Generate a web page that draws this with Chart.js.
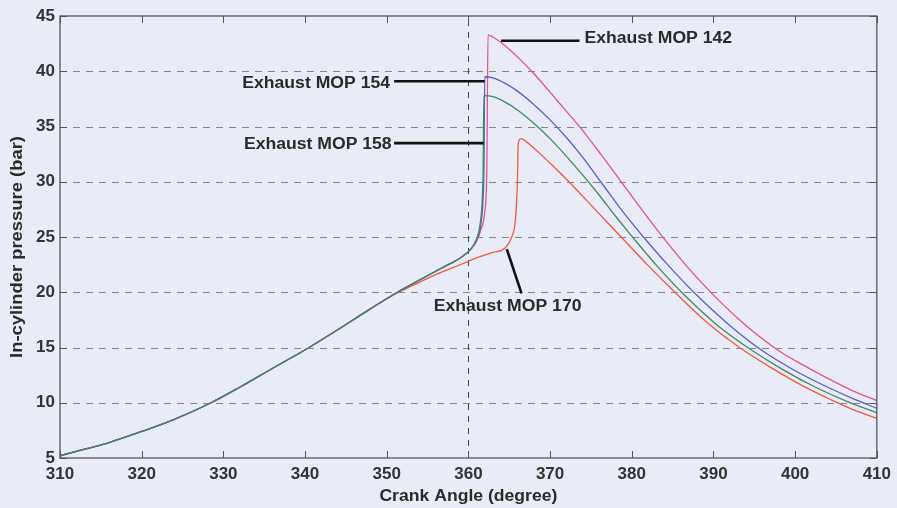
<!DOCTYPE html>
<html><head><meta charset="utf-8">
<script src="https://cdn.jsdelivr.net/npm/chart.js@4.4.1/dist/chart.umd.min.js"></script>
<style>html,body{margin:0;padding:0;background:#e9ebf6;}#wrap{width:897px;height:508px;position:relative;}</style>
</head><body><div id="wrap"><canvas id="c" width="897" height="508"></canvas></div>
<script>
// ---- data (crank angle in degrees, pressure in bar) ----
const xTicks = [310, 320, 330, 340, 350, 360, 370, 380, 390, 400, 410];
const yTicks = [5, 10, 15, 20, 25, 30, 35, 40, 45];
const gridY = [10, 15, 20, 25, 30, 35, 40];

const mop142Angle = [310, 313, 316, 320, 324, 328.5, 332, 336, 340.5, 344, 348, 351.3, 354, 357, 359, 360.3, 361, 361.5, 362, 362.25, 362.4, 363, 364, 366, 368, 370.8, 373.7, 376.3, 378.8, 381.4, 383.9, 386.8, 389.8, 393.8, 398, 401, 404, 407, 410];
const mop142P     = [5.2, 5.8, 6.4, 7.4, 8.5, 10.0, 11.4, 13.1, 15.0, 16.6, 18.5, 20.0, 21.1, 22.3, 23.1, 23.9, 24.6, 25.6, 27.3, 31.0, 43.3, 43.1, 42.6, 41.3, 39.8, 37.4, 34.9, 32.4, 29.9, 27.3, 24.9, 22.3, 19.9, 17.1, 14.7, 13.4, 12.2, 11.1, 10.2];

const mop154Angle = [310, 313, 316, 320, 324, 328.5, 332, 336, 340.5, 344, 348, 351.3, 354, 357, 359, 360.3, 361, 361.5, 361.8, 361.9, 362, 363, 364.5, 366, 368, 370, 372, 374, 376.2, 379, 382, 385, 388, 392, 396, 400, 404, 407, 410];
const mop154P     = [5.2, 5.8, 6.4, 7.4, 8.5, 10.0, 11.4, 13.1, 15.0, 16.6, 18.5, 20.0, 21.1, 22.3, 23.1, 23.9, 24.8, 26.0, 28.5, 31.0, 39.5, 39.4, 38.9, 38.2, 37.0, 35.6, 34.0, 32.2, 30.0, 27.2, 24.5, 22.0, 19.7, 17.0, 14.7, 12.9, 11.4, 10.4, 9.5];

const mop158Angle = [310, 313, 316, 320, 324, 328.5, 332, 336, 340.5, 344, 348, 351.3, 354, 357, 359, 360.3, 361, 361.4, 361.7, 361.8, 361.9, 363, 364.5, 366, 368, 370, 372, 374, 376, 378, 380.2, 383.3, 386.5, 390.5, 394.6, 398.5, 402.5, 406.4, 410];
const mop158P     = [5.2, 5.8, 6.4, 7.4, 8.5, 10.0, 11.4, 13.1, 15.0, 16.6, 18.5, 20.0, 21.1, 22.3, 23.1, 23.9, 24.8, 26.0, 28.5, 31.0, 37.8, 37.7, 37.2, 36.5, 35.3, 33.9, 32.3, 30.6, 28.8, 26.9, 24.9, 22.2, 19.7, 17.0, 14.8, 13.0, 11.4, 10.1, 9.1];

const mop170Angle = [310, 313, 316, 320, 324, 328.5, 332, 336, 340.5, 344, 348, 350, 352, 354, 356, 358, 360, 361.3, 363, 364.5, 365.3, 365.7, 365.9, 366, 366.1, 366.4, 367.6, 370.1, 372.3, 375.5, 378.7, 381.9, 385, 389, 393.2, 397, 401, 404.6, 407, 410];
const mop170P     = [5.2, 5.8, 6.4, 7.4, 8.5, 10.0, 11.4, 13.1, 15.0, 16.6, 18.5, 19.4, 20.2, 20.9, 21.6, 22.2, 22.8, 23.2, 23.6, 24.0, 25.0, 26.2, 28.2, 30.0, 33.4, 33.9, 33.3, 31.6, 30.0, 27.5, 25.0, 22.5, 20.2, 17.4, 15.0, 13.2, 11.5, 10.2, 9.4, 8.6];

// ---- annotations (labels with leader lines) ----
const noteText = ['Exhaust MOP 142', 'Exhaust MOP 154', 'Exhaust MOP 158', 'Exhaust MOP 170'];
const noteAt   = [[374.2, 43.0], [350.4, 38.9], [350.6, 33.4], [364.8, 18.7]];
const noteAlign = ['left', 'right', 'right', 'center'];
const leaderFrom = [[364.0, 42.76], [350.9, 39.1], [350.9, 33.5], [364.7, 23.9]];
const leaderTo   = [[373.6, 42.76], [362.0, 39.1], [361.9, 33.5], [366.5, 19.9]];

const FONT = '"Liberation Sans", Arial, Helvetica, sans-serif';
const pts = (xs, ys) => xs.map((x, i) => ({x: x, y: ys[i]}));

function stretchText(ctx, text, x, y, sx, align, rot) {
  ctx.save();
  ctx.translate(x, y);
  if (rot) ctx.rotate(rot);
  ctx.scale(sx, 1);
  ctx.textAlign = align;
  ctx.textBaseline = 'middle';
  ctx.fillText(text, 0, 0);
  ctx.restore();
}

const framePlugin = {
  id: 'frame',
  beforeDatasetsDraw(chart) {
    const {ctx, chartArea: a, scales: {x, y}} = chart;
    ctx.save();
    ctx.strokeStyle = '#858790';
    ctx.lineWidth = 1;
    ctx.setLineDash([7, 6]);
    gridY.forEach(v => {
      const py = Math.round(y.getPixelForValue(v)) + 0.5;
      ctx.beginPath(); ctx.moveTo(a.left, py); ctx.lineTo(a.right, py); ctx.stroke();
    });
    ctx.strokeStyle = '#444';
    ctx.setLineDash([6, 6]);
    const px = Math.round(x.getPixelForValue(360)) + 0.5;
    ctx.beginPath(); ctx.moveTo(px, a.bottom); ctx.lineTo(px, a.top); ctx.stroke();
    ctx.restore();
  },
  afterDatasetsDraw(chart) {
    const {ctx, chartArea: a, scales: {x, y}} = chart;
    ctx.save();
    ctx.strokeStyle = '#555';
    ctx.lineWidth = 1.3;
    ctx.strokeRect(a.left, a.top, a.right - a.left, a.bottom - a.top);
    ctx.lineWidth = 1;
    const tl = 7;
    xTicks.forEach(v => {
      const px = Math.round(x.getPixelForValue(v)) + 0.5;
      ctx.beginPath();
      ctx.moveTo(px, a.bottom); ctx.lineTo(px, a.bottom - tl);
      ctx.moveTo(px, a.top); ctx.lineTo(px, a.top + tl);
      ctx.stroke();
    });
    yTicks.forEach(v => {
      const py = Math.round(y.getPixelForValue(v)) + 0.5;
      ctx.beginPath();
      ctx.moveTo(a.left, py); ctx.lineTo(a.left + tl, py);
      ctx.moveTo(a.right, py); ctx.lineTo(a.right - tl, py);
      ctx.stroke();
    });
    ctx.fillStyle = '#2b2b2b';
    ctx.font = 'bold 16px ' + FONT;
    stretchText(ctx, 'Crank Angle (degree)', (a.left + a.right) / 2, 497, 1.1, 'center', 0);
    stretchText(ctx, 'In-cylinder pressure (bar)', 18, 247, 1.15, 'center', -Math.PI / 2);
    ctx.strokeStyle = '#111';
    ctx.lineWidth = 2.6;
    leaderFrom.forEach((f, i) => {
      const t = leaderTo[i];
      ctx.beginPath();
      ctx.moveTo(x.getPixelForValue(f[0]), y.getPixelForValue(f[1]));
      ctx.lineTo(x.getPixelForValue(t[0]), y.getPixelForValue(t[1]));
      ctx.stroke();
    });
    ctx.fillStyle = '#2a2a2a';
    noteText.forEach((t, i) => {
      stretchText(ctx, t, x.getPixelForValue(noteAt[i][0]), y.getPixelForValue(noteAt[i][1]), 1.1, noteAlign[i], 0);
    });
    ctx.restore();
  }
};

const lineDs = (label, xs, ys, color) => ({
  label: label, data: pts(xs, ys), borderColor: color, backgroundColor: color,
  borderWidth: 1.3, pointRadius: 0, fill: false, cubicInterpolationMode: 'monotone'
});

new Chart(document.getElementById('c'), {
  type: 'line',
  data: {
    datasets: [
      lineDs('Exhaust MOP 158', mop158Angle, mop158P, '#3f8a62'),
      lineDs('Exhaust MOP 154', mop154Angle, mop154P, '#5560c8'),
      lineDs('Exhaust MOP 170', mop170Angle, mop170P, '#ee5a45'),
      lineDs('Exhaust MOP 142', mop142Angle, mop142P, '#e4538e')
    ]
  },
  options: {
    responsive: false,
    animation: false,
    devicePixelRatio: 1,
    layout: {padding: {top: 16, right: 20, left: 0, bottom: 0}},
    plugins: {legend: {display: false}, tooltip: {enabled: false}},
    scales: {
      x: {
        type: 'linear', min: 310, max: 410,
        afterBuildTicks: s => { s.ticks = xTicks.map(v => ({value: v})); },
        afterFit: s => { s.height = 50; },
        grid: {display: false, drawTicks: false},
        border: {display: false},
        ticks: {font: {family: FONT, size: 17, weight: 'bold'}, color: '#333', padding: 6, maxRotation: 0, autoSkip: false}
      },
      y: {
        type: 'linear', min: 5, max: 45,
        afterBuildTicks: s => { s.ticks = yTicks.map(v => ({value: v})); },
        afterFit: s => { s.width = 60; },
        grid: {display: false, drawTicks: false},
        border: {display: false},
        ticks: {font: {family: FONT, size: 17, weight: 'bold'}, color: '#333', padding: 5, autoSkip: false}
      }
    }
  },
  plugins: [framePlugin]
});
</script>
</body></html>
